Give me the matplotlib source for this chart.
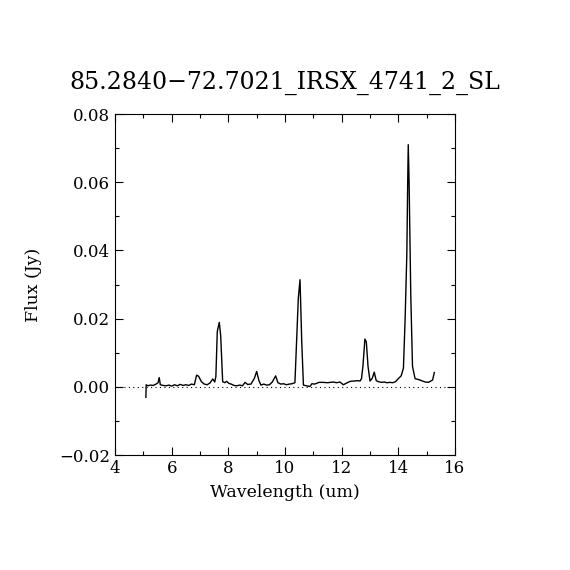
import matplotlib
matplotlib.use('Agg')
import matplotlib.pyplot as plt
from matplotlib.ticker import MultipleLocator

title = '85.2840\u221272.7021_IRSX_4741_2_SL'

# spectrum
wave = [5.09, 5.10, 5.16, 5.25, 5.35, 5.45, 5.52, 5.56, 5.60, 5.70, 5.80, 5.90,
        6.00, 6.10, 6.20, 6.30, 6.40, 6.50, 6.60, 6.70, 6.80, 6.88, 6.95, 7.05,
        7.15, 7.25, 7.35, 7.45, 7.52, 7.56, 7.61, 7.68, 7.73, 7.80, 7.88, 7.94,
        8.02, 8.10, 8.20, 8.30, 8.40, 8.50, 8.59, 8.68, 8.80, 8.92, 9.00, 9.08,
        9.15, 9.25, 9.35, 9.45, 9.55, 9.67, 9.75, 9.85, 9.95, 10.05, 10.15, 10.25,
        10.35, 10.41, 10.47, 10.53, 10.59, 10.65, 10.75, 10.88, 10.95, 11.05, 11.2,
        11.35, 11.5, 11.7, 11.82, 11.94, 12.06, 12.15, 12.3, 12.45, 12.55, 12.65,
        12.70, 12.75, 12.82, 12.87, 12.93, 13.00, 13.08, 13.15, 13.22, 13.30, 13.4,
        13.5, 13.6, 13.7, 13.8, 13.9, 14.00, 14.10, 14.18, 14.24, 14.30, 14.33,
        14.35, 14.38, 14.44, 14.50, 14.59, 14.68, 14.76, 14.85, 14.95, 15.06,
        15.15, 15.21, 15.27]
flux = [-0.0031, 0.0006, 0.0003, 0.0005, 0.0004, 0.0008, 0.0012, 0.0027, 0.0006, 0.0004,
        0.0003, 0.0005, 0.0002, 0.0006, 0.0003, 0.0007, 0.0004, 0.0006, 0.0004, 0.0008,
        0.0006, 0.0034, 0.0031, 0.0015, 0.0008, 0.0006, 0.0011, 0.0023, 0.0014, 0.0030,
        0.0162, 0.0189, 0.0150, 0.0015, 0.0012, 0.0016, 0.0010, 0.0008, 0.0004, 0.0003,
        0.0005, 0.0003, 0.0013, 0.0007, 0.0008, 0.0025, 0.0045, 0.0018, 0.0005, 0.0008,
        0.0005, 0.0006, 0.0014, 0.0032, 0.0012, 0.0008, 0.0009, 0.0006, 0.0008, 0.0009,
        0.0012, 0.0135, 0.0260, 0.0314, 0.0135, 0.0005, 0.0003, 0.0001, 0.0009, 0.0008,
        0.0013, 0.0013, 0.0012, 0.0014, 0.0012, 0.0014, 0.0006, 0.0010, 0.0016, 0.0017,
        0.0018, 0.0017, 0.0024, 0.0060, 0.0140, 0.0132, 0.0060, 0.0017, 0.0025, 0.0043,
        0.0018, 0.0015, 0.0013, 0.0014, 0.0012, 0.0013, 0.0012, 0.0015, 0.0024, 0.0032,
        0.0055, 0.0200, 0.0390, 0.0597, 0.0710, 0.0600, 0.0265, 0.0060, 0.0024, 0.0022,
        0.0020, 0.0017, 0.0014, 0.0013, 0.0017, 0.0020, 0.0042]

plt.rcParams['font.family'] = ['DejaVu Serif']

fig = plt.figure(figsize=(5.7, 5.7), dpi=100)
ax = fig.add_axes([115 / 570, 115 / 570, 340 / 570, 341 / 570])

ax.plot(wave, flux, color='black', linewidth=1.0)
ax.axhline(0.0, color='black', linestyle=(0, (1, 3)), linewidth=0.8)

ax.set_xlim(4, 16)
ax.set_ylim(-0.02, 0.08)
ax.xaxis.set_major_locator(MultipleLocator(2))
ax.xaxis.set_minor_locator(MultipleLocator(1))
ax.yaxis.set_major_locator(MultipleLocator(0.02))
ax.yaxis.set_minor_locator(MultipleLocator(0.01))
ax.yaxis.set_major_formatter(matplotlib.ticker.FuncFormatter(
    lambda v, p: f'{v:.2f}'.replace('-', '\u2212')))
ax.tick_params(which='both', direction='in', top=True, right=True,
               labelsize=12, width=0.8)
ax.tick_params(which='major', length=6)
ax.tick_params(which='minor', length=3)
for s in ax.spines.values():
    s.set_linewidth(0.8)

ax.set_xlabel('Wavelength (um)', fontsize=12.5, labelpad=5)
ax.set_ylabel('Flux (Jy)', fontsize=12.5, labelpad=12)
ax.set_title(title, fontsize=17, pad=18)

fig.savefig('out.png', dpi=100)
